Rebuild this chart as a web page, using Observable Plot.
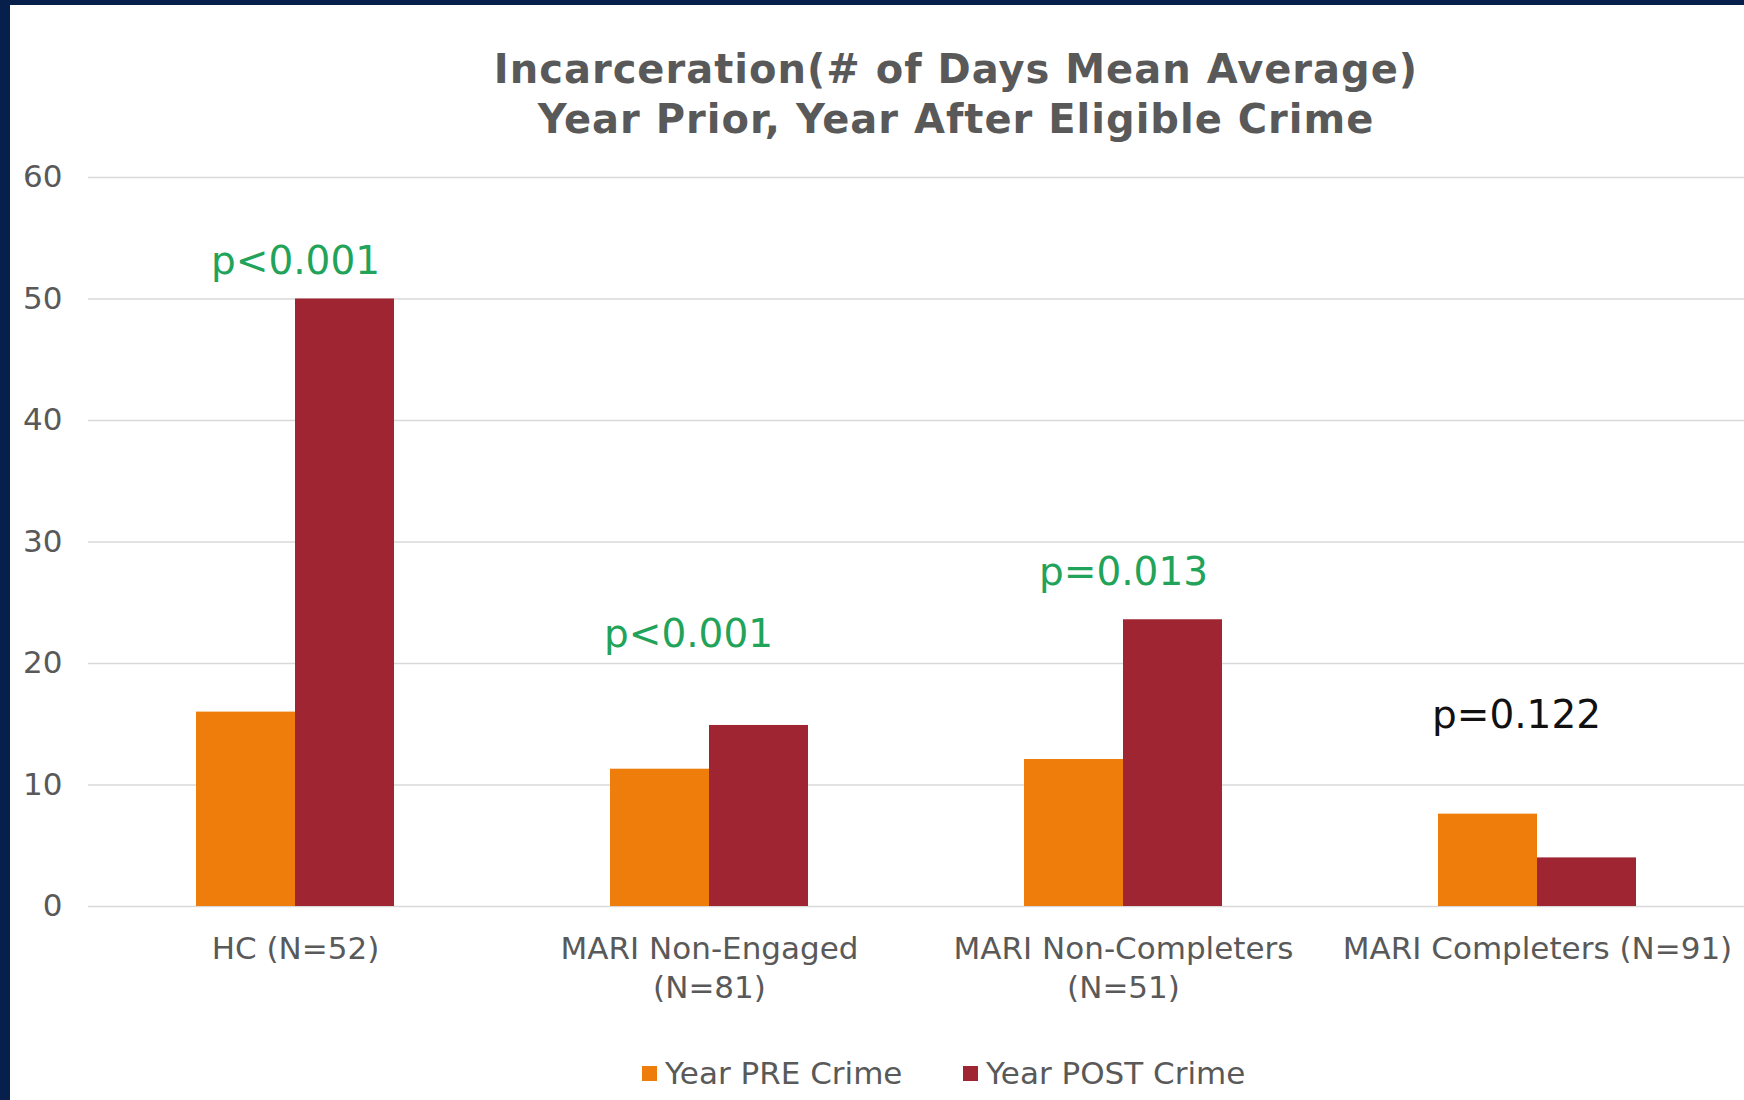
<!DOCTYPE html>
<html>
<head>
<meta charset="utf-8">
<script src="https://cdn.jsdelivr.net/npm/d3@7"></script>
<script src="https://cdn.jsdelivr.net/npm/@observablehq/plot@0.6"></script>
<style>
  html, body { margin: 0; padding: 0; }
  body { background: #ffffff; width: 1744px; height: 1100px; overflow: hidden; position: relative; font-family: "DejaVu Sans", Verdana, sans-serif; }
  #leftbar { position: absolute; left: 0; top: 0; width: 10px; height: 1100px; background: #06204b; }
  #topbar { position: absolute; left: 0; top: 0; width: 1744px; height: 5px; background: #06204b; }
  #title { position: absolute; left: 456px; width: 1000px; top: 44px; text-align: center; font-weight: bold; font-size: 40px; line-height: 50px; letter-spacing: 1px; color: #595959; }
  #chart { position: absolute; left: 0; top: 140px; }
  .leg { position: absolute; top: 1053px; height: 40px; display: flex; align-items: center; font-size: 31px; color: #595959; white-space: nowrap; }
  .sw { width: 15px; height: 15px; margin-right: 8px; }
</style>
</head>
<body>
<div id="leftbar"></div>
<div id="topbar"></div>
<div id="title">Incarceration(# of Days Mean Average)<br>Year Prior, Year After Eligible Crime</div>
<div id="chart"></div>
<div id="legend"></div>
<script>
// ---- Data ----
const categories = ["HC (N=52)", "MARI Non-Engaged\n(N=81)", "MARI Non-Completers\n(N=51)", "MARI Completers (N=91)"];
const series = ["Year PRE Crime", "Year POST Crime"];
const preValues = [16.0, 11.3, 12.1, 7.6];
const postValues = [50.0, 14.9, 23.6, 4.0];
const pLabels = ["p<0.001", "p<0.001", "p=0.013", "p=0.122"];
const pSignificant = [true, true, true, false];
const pLabelHeights = [53.1, 22.4, 27.5, 15.7];
const yTicks = [0, 10, 20, 30, 40, 50, 60];
const seriesColors = ["#EE7D0B", "#9F2533"];

// ---- Tables built from arrays ----
const rows = categories.flatMap((c, i) => [
  {category: c, series: series[0], value: preValues[i]},
  {category: c, series: series[1], value: postValues[i]}
]);
const pData = categories.map((c, i) => ({idx: i, category: c, label: pLabels[i], sig: pSignificant[i], height: pLabelHeights[i]}));
// labels of the 2nd and 4th groups sit slightly left of the group centre in the original
const shifted = new Set([1, 3]);
const pFill = d => d.sig ? "#22A35A" : "#111111";

const chart = Plot.plot({
  width: 1744,
  height: 900,
  marginLeft: 88,
  marginRight: 0,
  marginTop: 37,
  marginBottom: 134,
  style: {fontFamily: "DejaVu Sans, Verdana, sans-serif", background: "transparent"},
  fx: {domain: categories, padding: 0, label: null},
  x: {domain: series, paddingInner: 0, paddingOuter: 1.09, axis: null},
  y: {domain: [0, 60], axis: null},
  color: {domain: series, range: seriesColors},
  marks: [
    Plot.gridY(yTicks, {stroke: "#d9d9d9", strokeOpacity: 1, strokeWidth: 1.6}),
    Plot.axisY(yTicks, {tickSize: 0, tickPadding: 26, fontSize: 31, fill: "#595959", label: null}),
    Plot.axisFx({anchor: "bottom", tickSize: 0, tickPadding: 25, fontSize: 31, fill: "#595959", lineHeight: 1.26, label: null}),
    Plot.barY(rows, {fx: "category", x: "series", y: "value", fill: "series"}),
    Plot.text(pData.filter(d => d.sig && !shifted.has(d.idx)), {fx: "category", y: "height", text: "label", fill: "#22A35A", fontSize: 39}),
    Plot.text(pData.filter(d => d.sig && shifted.has(d.idx)), {fx: "category", y: "height", text: "label", fill: "#22A35A", fontSize: 39, dx: -21}),
    Plot.text(pData.filter(d => !d.sig), {fx: "category", y: "height", text: "label", fill: "#111111", fontSize: 39, dx: -21})
  ]
});
document.getElementById("chart").appendChild(chart);

// ---- Legend ----
const legendX = [642, 963];
const legend = document.getElementById("legend");
series.forEach((s, i) => {
  const item = document.createElement("div");
  item.className = "leg";
  item.style.left = legendX[i] + "px";
  const sw = document.createElement("div");
  sw.className = "sw";
  sw.style.background = seriesColors[i];
  const t = document.createElement("span");
  t.textContent = s;
  item.appendChild(sw);
  item.appendChild(t);
  legend.appendChild(item);
});
</script>
</body>
</html>
